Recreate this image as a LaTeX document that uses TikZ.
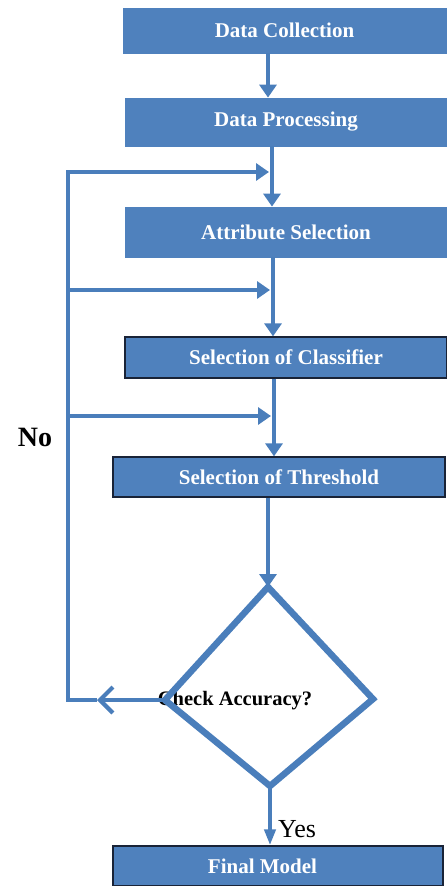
\documentclass[tikz,border=0pt]{standalone}
\usepackage{fontspec}
\setmainfont{Liberation Serif}
\usetikzlibrary{arrows.meta}
\definecolor{boxblue}{RGB}{79,129,189}
\definecolor{lineblue}{RGB}{74,126,187}
\definecolor{edgedark}{RGB}{25,35,55}
\begin{document}
\begin{tikzpicture}[x=1pt,y=-1pt,
  box/.style={fill=boxblue, draw=boxblue, line width=0.8pt, inner sep=0pt, text=white,
              font=\fontsize{21}{23}\selectfont\bfseries},
  boxedge/.style={box, draw=edgedark, line width=1.3pt},
  wire/.style={draw=lineblue, line width=4.7pt},
  flow/.style={wire, -{Triangle[length=13pt,width=17pt]}},
  lbl/.style={inner sep=0pt, text=black}
]
\useasboundingbox (0,0) rectangle (447,886);

% process boxes
\node[box, minimum width=323pt, minimum height=45pt] (dc) at (284.5,30.5) {Data Collection};
\node[box, minimum width=322pt, minimum height=48pt] (dp) at (286,122) {Data Processing};
\node[box, minimum width=322pt, minimum height=50pt] (as) at (286,232) {Attribute Selection};
\node[boxedge, minimum width=322pt, minimum height=41pt] (sc) at (286,357.5) {Selection of Classifier};
\node[boxedge, minimum width=332pt, minimum height=40pt] (st) at (279,477) {Selection of Threshold};
\node[boxedge, minimum width=330pt, minimum height=40pt] (fm) at (278,866) {\hspace*{-31pt}Final Model};

% labels
\node[lbl, font=\fontsize{20.5}{22}\selectfont\bfseries] (ca) at (235,701) {Check Accuracy?};
\node[lbl, font=\fontsize{28}{30}\selectfont\bfseries] (no) at (35,437) {No};
\node[lbl, font=\fontsize{26}{28}\selectfont] (yes) at (297,829) {Yes};

% decision diamond
\coordinate (dT) at (268,587);
\coordinate (dR) at (373,699);
\coordinate (dB) at (270,786);
\coordinate (dL) at (165,700);
\draw[draw=lineblue, line width=6.5pt, line join=miter] (dT) -- (dR) -- (dB) -- (dL) -- cycle;

% main line x positions
\coordinate (m1) at (268,0);
\coordinate (m2) at (272,0);
\coordinate (m3) at (273,0);
\coordinate (m4) at (274,0);
\coordinate (m5) at (268,0);
\coordinate (m6) at (270,0);

\draw[flow] (m1 |- dc.south) -- (m1 |- dp.north);
\draw[flow] (m2 |- dp.south) -- (m2 |- as.north);
\draw[flow] (m3 |- as.south) -- (m3 |- sc.north);
\draw[flow] (m4 |- sc.south) -- (m4 |- st.north);
\draw[flow] (m5 |- st.south) -- (dT);
\draw[wire, -{Triangle[length=16pt,width=11pt]}] (dB) -- (m6 |- fm.north);

% feedback (No) path
\coordinate (nb) at (97,700);
\coordinate (c1) at (68,700);
\coordinate (c2) at (68,172);
\coordinate (j1) at (269,172);
\coordinate (k2) at (68,290);
\coordinate (j2) at (270,290);
\coordinate (k3) at (68,416);
\coordinate (j3) at (271,416);
\draw[wire, line width=4.2pt, -{Straight Barb[length=13pt,width=26pt]}] (dL) -- (nb);
\draw[flow, line join=miter] (nb) -- (c1) -- (c2) -- (j1);
\draw[flow] (k2) -- (j2);
\draw[flow] (k3) -- (j3);
\end{tikzpicture}
\end{document}
